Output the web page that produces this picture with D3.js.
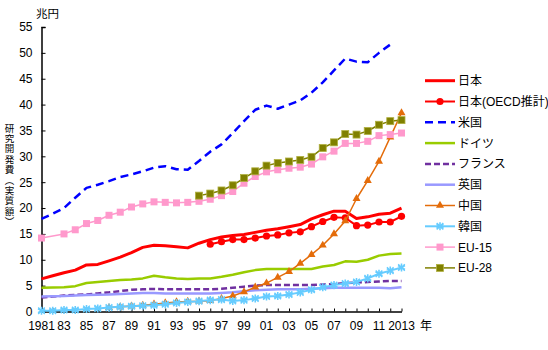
<!DOCTYPE html>
<html><head><meta charset="utf-8">
<script src="https://cdn.jsdelivr.net/npm/d3@7"></script>
<style>
html,body{margin:0;padding:0;background:#fff;}
svg text{font-family:"Liberation Sans","Noto Sans CJK JP",sans-serif;fill:#000;}
</style></head>
<body><svg id="c" width="548" height="350"></svg>
<script>
const years = [1981,1982,1983,1984,1985,1986,1987,1988,1989,1990,1991,1992,1993,1994,1995,1996,1997,1998,1999,2000,2001,2002,2003,2004,2005,2006,2007,2008,2009,2010,2011,2012,2013];
const xTickLabels = ["1981","83","85","87","89","91","93","95","97","99","01","03","05","07","09","11","2013"];
const yTicks = [0,5,10,15,20,25,30,35,40,45,50,55];
const seriesNames = ["日本","日本(OECD推計)","米国","ドイツ","フランス","英国","中国","韓国","EU-15","EU-28"];
const yTitleChars = ["研","究","開","発","費","︵","実","質","額","︶"];

const japan = [6.3,6.9,7.5,8.0,9.0,9.1,9.8,10.5,11.4,12.4,12.8,12.7,12.5,12.3,13.2,13.9,14.4,14.7,14.9,15.3,15.7,16.0,16.4,16.8,17.9,18.7,19.4,19.4,18.0,18.3,18.8,19.0,20.0];
const japanOECD = [null,null,null,null,null,null,null,null,null,null,null,null,null,null,null,13.0,13.5,13.9,13.9,14.2,14.6,14.8,15.2,15.4,16.4,17.4,18.2,18.1,16.6,16.7,17.3,17.3,18.4];
const us = [17.9,18.9,20.0,22.0,23.9,24.5,25.2,26.0,26.5,27.1,27.8,28.1,27.5,27.4,29.1,30.9,32.3,34.5,36.8,39.0,39.8,39.2,40.0,40.8,42.3,44.3,46.6,48.9,48.3,48.2,50.0,51.6,null];
const germany = [4.6,4.65,4.7,4.9,5.5,5.7,5.9,6.1,6.2,6.4,6.9,6.6,6.4,6.3,6.4,6.4,6.7,7.1,7.6,8.0,8.2,8.2,8.2,8.2,8.2,8.7,9.0,9.7,9.6,10.0,10.8,11.1,11.2];
const france = [2.7,2.9,3.1,3.2,3.3,3.5,3.7,3.95,4.2,4.3,4.35,4.3,4.3,4.3,4.3,4.3,4.4,4.6,4.8,5.0,5.1,5.1,5.1,5.1,5.1,5.2,5.3,5.5,5.6,5.7,5.8,5.9,5.9];
const uk = [2.9,2.95,3.0,3.1,3.2,3.25,3.3,3.4,3.5,3.6,3.6,3.5,3.5,3.5,3.5,3.5,3.6,3.7,3.9,4.1,4.2,4.3,4.3,4.3,4.4,4.5,4.6,4.6,4.6,4.6,4.6,4.5,4.7];
const china = [null,null,null,null,null,null,0.75,0.9,1.05,1.2,1.4,1.65,1.85,1.95,2.0,2.1,2.5,3.0,3.8,4.7,5.5,6.6,7.7,9.3,11.0,12.8,15.0,17.5,21.8,25.3,29.0,33.7,38.4];
const korea = [0.15,0.15,0.3,0.3,0.5,0.6,0.75,0.9,1.0,1.1,1.2,1.4,1.65,1.85,2.0,2.2,2.3,2.05,2.2,2.5,2.9,3.0,3.3,3.7,4.2,4.7,5.1,5.4,5.7,6.4,7.3,7.9,8.5];
const eu15 = [14.2,null,15.0,15.8,17.0,17.6,18.6,19.2,20.2,20.8,21.2,21.1,21.0,21.1,21.3,21.7,22.4,23.2,24.8,26.1,27.0,27.4,27.7,27.9,28.5,29.9,31.0,32.5,32.5,32.9,34.0,34.2,34.5];
const eu28 = [null,null,null,null,null,null,null,null,null,null,null,null,null,null,22.4,22.8,23.4,24.4,25.8,27.1,28.2,28.7,29.0,29.3,29.9,31.6,32.7,34.3,34.2,34.9,36.1,36.8,37.0];

const svg = d3.select("#c");
const x = d3.scaleLinear().domain([1981,2013]).range([41.5,401.5]);
const y = d3.scaleLinear().domain([0,55]).range([311.5,27]);

const styles = [
  {data:japan, color:"#ff0000", w:3, dash:null, marker:null},
  {data:japanOECD, color:"#ff0000", w:2, dash:null, marker:"circle"},
  {data:us, color:"#0000ff", w:2.5, dash:"8,5", marker:null},
  {data:germany, color:"#99cc00", w:2.5, dash:null, marker:null},
  {data:france, color:"#7030a0", w:2.5, dash:"6,3", marker:null},
  {data:uk, color:"#9999ff", w:2.5, dash:null, marker:null},
  {data:china, color:"#e46c0a", w:1.5, dash:null, marker:"triangle"},
  {data:korea, color:"#66ccff", w:2, dash:null, marker:"asterisk"},
  {data:eu15, color:"#ff99cc", w:1.5, dash:null, marker:"square"},
  {data:eu28, color:"#808000", w:1.5, dash:null, marker:"square2"}
];

// axes
const yAxis = d3.axisLeft(y).tickValues(yTicks).tickSize(-4).tickPadding(9);
const gy = svg.append("g").attr("transform","translate(41.5,0)").call(yAxis);
gy.select(".domain").attr("stroke","#000").attr("stroke-width",1.5);
gy.selectAll(".tick line").attr("stroke","#000");
gy.selectAll(".tick text").style("font-size","12px");

const xAxis = d3.axisBottom(x).tickValues(years).tickSize(-3).tickFormat("").tickSizeOuter(0);
const gx = svg.append("g").attr("transform","translate(0,311.5)").call(xAxis);
gx.select(".domain").attr("stroke","#000").attr("stroke-width",1.5);
gx.selectAll(".tick line").attr("stroke","#000");

const labelYears = years.filter((d,i)=>i%2===0);
svg.append("g").selectAll("text").data(labelYears).join("text")
  .attr("x",d=>x(d)).attr("y",330).attr("text-anchor","middle")
  .style("font-size","12px").text((d,i)=>xTickLabels[i]);
svg.append("text").attr("x",420).attr("y",330).style("font-size","12px").text("年");
svg.append("text").attr("x",36).attr("y",18).style("font-size","11.5px").text("兆円");

svg.append("g").selectAll("text").data(yTitleChars).join("text")
  .attr("x",9.5).attr("y",(d,i)=>128 + i*10.4).attr("text-anchor","middle")
  .attr("dominant-baseline","central")
  .style("font-size","9.5px").text(d=>d);

function drawMarker(g, type, color, cx, cy){
  if(type==="circle"){
    g.append("circle").attr("cx",cx).attr("cy",cy).attr("r",3.6).attr("fill",color);
  } else if(type==="triangle"){
    g.append("path").attr("d",d3.symbol(d3.symbolTriangle,28)()).attr("transform",`translate(${cx},${cy})`).attr("fill",color);
  } else if(type==="asterisk"){
    g.append("path").attr("d",d3.symbol(d3.symbolAsterisk,45)()).attr("transform",`translate(${cx},${cy})`)
      .attr("fill","none").attr("stroke",color).attr("stroke-width",1.6);
    g.append("path").attr("d",d3.symbol(d3.symbolTimes,30)()).attr("transform",`translate(${cx},${cy})`)
      .attr("fill","none").attr("stroke",color).attr("stroke-width",1.4);
  } else if(type==="square"){
    g.append("rect").attr("x",cx-3.5).attr("y",cy-3.5).attr("width",7).attr("height",7).attr("fill",color);
  } else if(type==="square2"){
    g.append("rect").attr("x",cx-3.5).attr("y",cy-3.5).attr("width",7).attr("height",7).attr("fill",color)
      .attr("stroke","#b0b040").attr("stroke-width",0.8);
  }
}

const line = d3.line().x(d=>x(d.yr)).y(d=>y(d.v)).curve(d3.curveLinear);
const plot = svg.append("g");
styles.forEach(s=>{
  const pts = years.map((yr,i)=>({yr, v:s.data[i]})).filter(d=>d.v!==null);
  const g = plot.append("g");
  g.append("path").attr("d",line(pts)).attr("fill","none").attr("stroke",s.color)
    .attr("stroke-width",s.w).attr("stroke-dasharray",s.dash).attr("stroke-linejoin","round");
  if(s.marker) pts.forEach(p=>drawMarker(g,s.marker,s.color,x(p.yr),y(p.v)));
});

// legend
const leg = svg.append("g");
styles.forEach((s,i)=>{
  const ly = 80.7 + i*20.8;
  leg.append("line").attr("x1",425).attr("x2",455).attr("y1",ly).attr("y2",ly)
    .attr("stroke",s.color).attr("stroke-width",s.w).attr("stroke-dasharray",s.dash);
  if(s.marker) drawMarker(leg,s.marker,s.color,440,ly);
  leg.append("text").attr("x",458).attr("y",ly+4.5).style("font-size","12px").text(seriesNames[i]);
});
</script></body></html>
